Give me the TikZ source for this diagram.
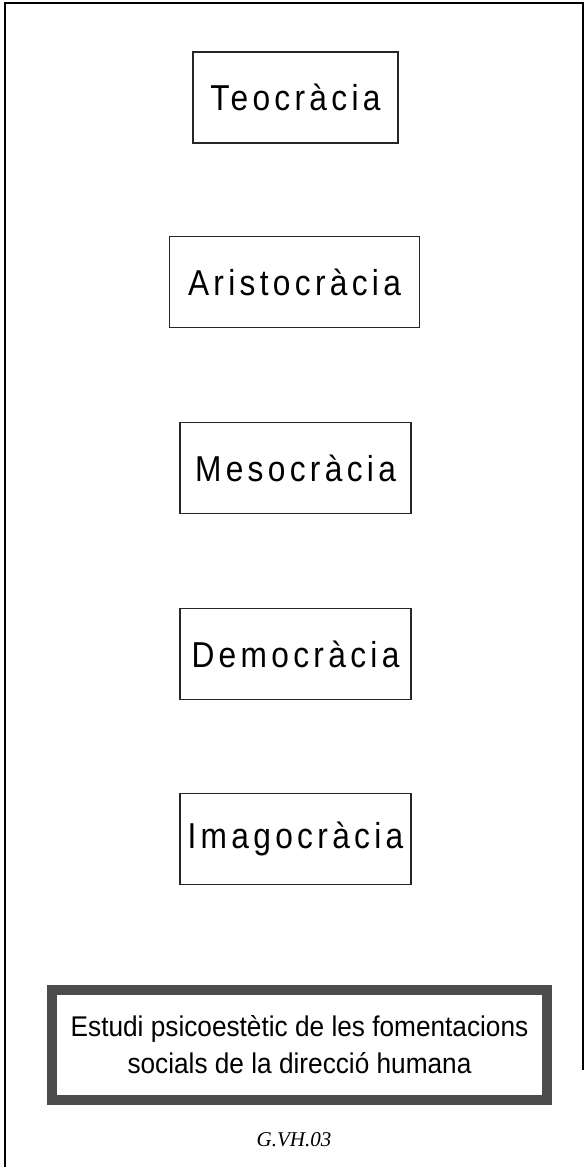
\documentclass[tikz,border=0pt]{standalone}
\usepackage{fontspec}
\setmainfont{Liberation Sans}
\newfontfamily\formafont[LetterSpace=12, FakeStretch=0.88]{Liberation Sans}
\newfontfamily\titolfont[FakeStretch=0.92]{Liberation Sans}
\newfontfamily\signfont{Liberation Serif}
\usetikzlibrary{positioning}

\tikzset{
  formabox/.style={draw=black!85, line width=1.3pt, minimum height=91pt,
    inner sep=0pt, font=\formafont\fontsize{36}{40}\selectfont},
  titolbox/.style={draw=black!70, line width=10pt, minimum width=495pt,
    minimum height=110pt, align=center,
    font=\titolfont\fontsize{28.5}{37}\selectfont},
}

\begin{document}
\begin{tikzpicture}[x=1pt, y=-1pt]
  \useasboundingbox (0,0) rectangle (587,1167);
  % outer frame
  \draw[line width=1.3pt] (5,1167) -- (5,3) -- (583,3) -- (583,1070);

  \node[formabox, minimum width=205pt] (teo)   at (295.5, 97.5)  {Teocràcia};
  \node[formabox, minimum width=250pt] (aris)  at (294.5, 282)   {Aristocràcia};
  \node[formabox, minimum width=231pt] (meso)  at (295.5, 468)   {Mesocràcia};
  \node[formabox, minimum width=231pt] (demo)  at (295.5, 654)   {Democràcia};
  \node[formabox, minimum width=231pt] (imago) at (295.5, 839)   {Imagocràcia};

  \node[titolbox] (estudi) at (299.5, 1045)
    {Estudi psicoestètic de les fomentacions\\socials de la direcció humana};
  \node[font=\signfont\itshape\fontsize{21}{24}\selectfont] (sign)
    at (294, 1140) {G.VH.03};
\end{tikzpicture}
\end{document}
